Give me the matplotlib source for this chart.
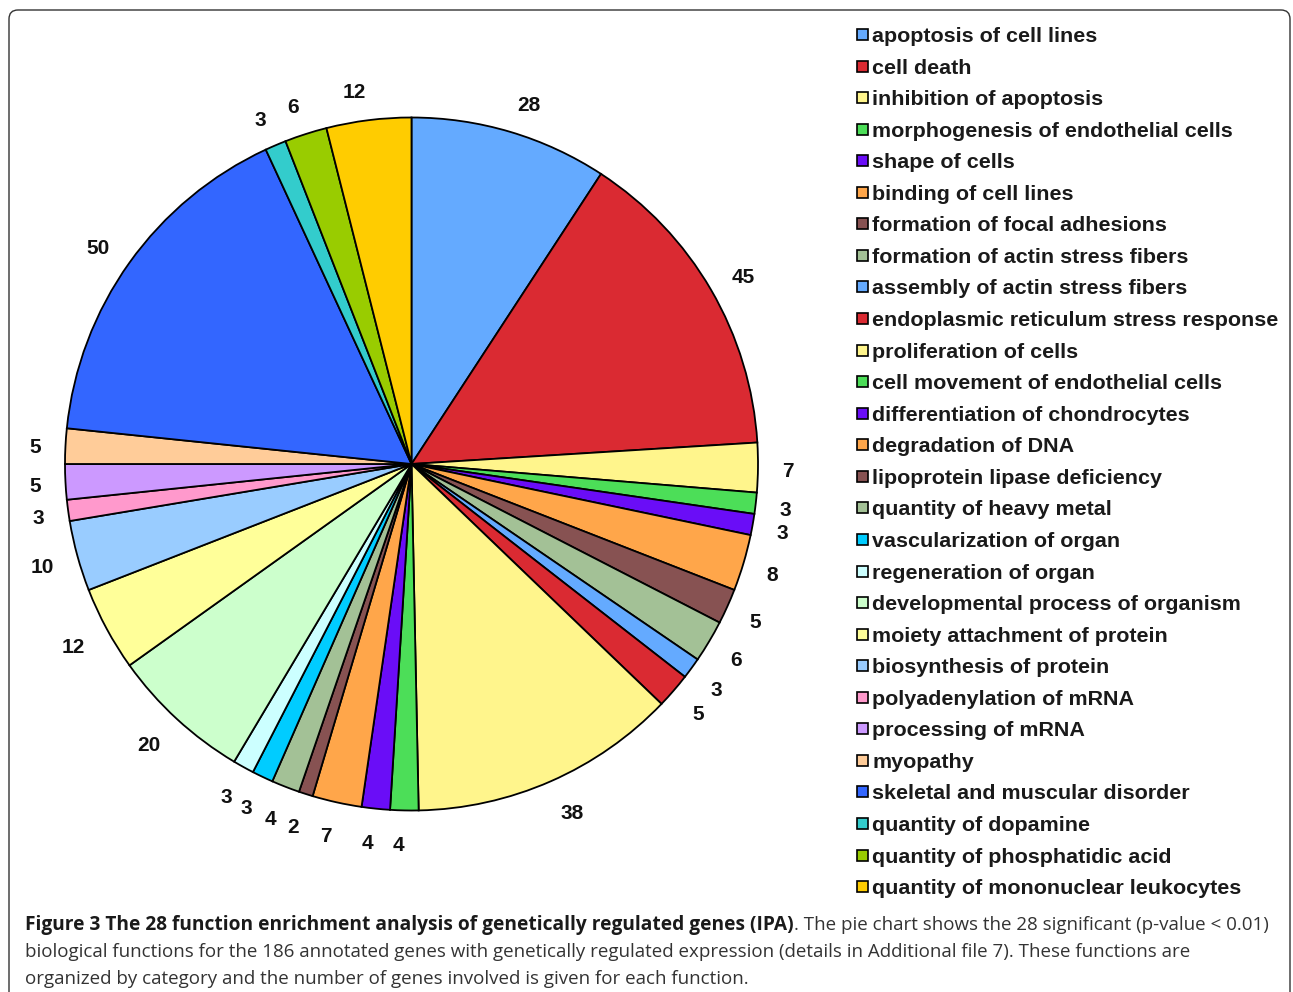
import numpy as np
import matplotlib
matplotlib.use("Agg")
import matplotlib.pyplot as plt
from matplotlib.patches import FancyBboxPatch, Rectangle
from matplotlib.transforms import IdentityTransform

W, H = 1293, 992

functions = [
    "apoptosis of cell lines", "cell death", "inhibition of apoptosis",
    "morphogenesis of endothelial cells", "shape of cells", "binding of cell lines",
    "formation of focal adhesions", "formation of actin stress fibers",
    "assembly of actin stress fibers", "endoplasmic reticulum stress response",
    "proliferation of cells", "cell movement of endothelial cells",
    "differentiation of chondrocytes", "degradation of DNA",
    "lipoprotein lipase deficiency", "quantity of heavy metal",
    "vascularization of organ", "regeneration of organ",
    "developmental process of organism", "moiety attachment of protein",
    "biosynthesis of protein", "polyadenylation of mRNA", "processing of mRNA",
    "myopathy", "skeletal and muscular disorder", "quantity of dopamine",
    "quantity of phosphatidic acid", "quantity of mononuclear leukocytes",
]
genes = [28, 45, 7, 3, 3, 8, 5, 6, 3, 5, 38, 4, 4, 7, 2, 4, 3, 3,
         20, 12, 10, 3, 5, 5, 50, 3, 6, 12]
colors = [
    "#64AAFF", "#DA2A32", "#FFF58C", "#4CDE58", "#6A0DF7", "#FFA64A",
    "#875252", "#A3C196", "#64AAFF", "#DA2A32", "#FFF58C", "#4CDE58",
    "#6A0DF7", "#FFA64A", "#875252", "#A3C196", "#00CCFF", "#CCFFFF",
    "#CCFFCC", "#FFFF99", "#99CCFF", "#FF99CC", "#CC99FF", "#FFCC99",
    "#3366FF", "#33CCCC", "#99CC00", "#FFCC00",
]

caption_bold = "Figure 3 The 28 function enrichment analysis of genetically regulated genes (IPA)"
caption_lines = [
    ". The pie chart shows the 28 significant (p-value < 0.01)",
    "biological functions for the 186 annotated genes with genetically regulated expression (details in Additional file 7). These functions are",
    "organized by category and the number of genes involved is given for each function.",
]

fig = plt.figure(figsize=(W / 100, H / 100), dpi=100)
renderer = fig.canvas.get_renderer()


def fx(x):
    return x / W


def fy(y):
    return 1 - y / H


def fit_size(text, target, **kw):
    # scale a probe text so that it spans target pixels
    t = fig.text(0, 0, text, fontsize=20, **kw)
    w = t.get_window_extent(renderer=renderer).width
    t.remove()
    return 20 * target / w


# outer rounded frame
frame = FancyBboxPatch((9, -20), 1281, H - 10 + 20, boxstyle="round,pad=0,rounding_size=9",
                       transform=IdentityTransform(), facecolor="none",
                       edgecolor="#333333", linewidth=1.0)
fig.add_artist(frame)

# pie
cx, cy, r = 411.5, 464, 346.5
ax = fig.add_axes([fx(cx - r), fy(cy + r), 2 * r / W, 2 * r / H])
wedges, texts = ax.pie(genes, labels=[str(g) for g in genes], colors=colors,
                       startangle=90, counterclock=False, labeldistance=1.075,
                       wedgeprops=dict(edgecolor="black", linewidth=1.3),
                       textprops=dict(fontsize=15, family="Liberation Sans",
                                      weight="bold", color="#111111"))
# labels sit a little further out below than at the sides and top
for w, t in zip(wedges, texts):
    th = np.deg2rad((w.theta1 + w.theta2) / 2)
    t.set_position((1.07 * np.cos(th), 1.09 * np.sin(th) - 0.01))
ax.set_xlim(-1, 1)
ax.set_ylim(-1, 1)

# legend
leg_size = fit_size(max(functions, key=len), 404, family="Liberation Sans", weight="bold")
for i, (name, col) in enumerate(zip(functions, colors)):
    yc = 34.5 + i * 31.56
    fig.add_artist(Rectangle((857, H - yc - 5.5), 11, 11, transform=IdentityTransform(),
                             facecolor=col, edgecolor="black", linewidth=1.2))
    fig.text(fx(872), fy(yc + 7.5), name, fontsize=leg_size, family="Liberation Sans",
             weight="bold", color="#1a1a1a", va="baseline", ha="left")

# caption
bold_size = fit_size(caption_bold, 768, family="Open Sans", weight="bold")
reg_size = fit_size(caption_lines[1], 1165, family="Open Sans")
tb = fig.text(fx(25), fy(930), caption_bold, fontsize=bold_size, family="Open Sans",
              weight="bold", color="#1a1a1a", va="baseline")
bw = tb.get_window_extent(renderer=renderer).width
fig.text(fx(25 + bw), fy(930), caption_lines[0], fontsize=reg_size, family="Open Sans",
         color="#333333", va="baseline")
for j, line in enumerate(caption_lines[1:]):
    fig.text(fx(25), fy(957 + 26.5 * j), line, fontsize=reg_size, family="Open Sans",
             color="#333333", va="baseline")

fig.savefig("out.png", dpi=100)
